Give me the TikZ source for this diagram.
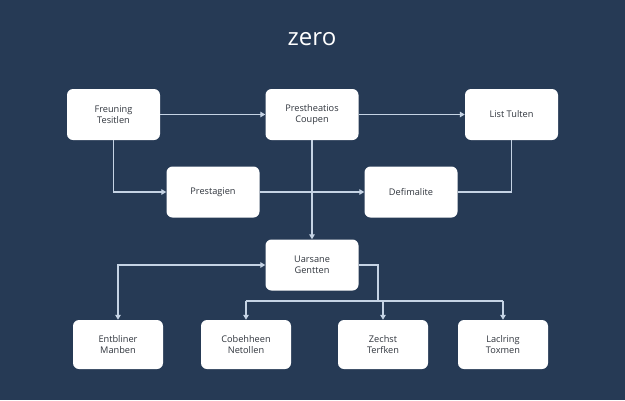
\documentclass[tikz,border=0pt]{standalone}
\usepackage{fontspec}
\setmainfont{Open Sans}
\usetikzlibrary{arrows.meta}
\definecolor{navy}{HTML}{263A55}
\definecolor{wire}{HTML}{C5D3E4}
\definecolor{ink}{HTML}{30353D}
\tikzset{
  box/.style={fill=white, rounded corners=6pt, minimum width=93pt, minimum height=51pt,
    align=center, text=ink, font=\fontsize{9.2}{11}\selectfont},
  lowbox/.style={box, minimum width=90pt, minimum height=49pt},
  bus/.style={wire, line width=1.2pt},
  link/.style={bus, -{Triangle[length=5pt,width=5.5pt]}},
  twoway/.style={bus, {Triangle[length=5pt,width=5.5pt]}-{Triangle[length=5pt,width=5.5pt]}},
  heading/.style={text=white, font=\fontsize{24}{28}\selectfont}
}

\begin{document}
\begin{tikzpicture}[x=1pt,y=-1pt]
  \fill[navy] (0,0) rectangle (625,400);
  \useasboundingbox (0,0) rectangle (625,400);

  \node[heading] (title) at (312,39) {zero};

  % top row
  \node[box] (fre) at (113.5,114.5) {Freuning\\Tesitlen};
  \node[box] (pre) at (312,114.5) {Prestheatios\\Coupen};
  \node[box] (lis) at (511.5,114.5) {List Tulten};

  % middle
  \node[box] (sta) at (213,192) {Prestagien};
  \node[box] (def) at (411,192) {Defimalite};
  \node[box] (uar) at (312,265) {Uarsane\\Gentten};

  % bottom row
  \node[lowbox] (ent) at (118,344.5) {Entbliner\\Manben};
  \node[lowbox] (cob) at (246,344.5) {Cobehheen\\Netollen};
  \node[lowbox] (zec) at (383,344.5) {Zechst\\Terfken};
  \node[lowbox] (lac) at (503,344.5) {Laclring\\Toxmen};

  \coordinate (split) at (378,301);
  \coordinate (busl) at (246,301);
  \coordinate (busr) at (503,301);

  \draw[link] (fre) -- (pre);
  \draw[link] (pre) -- (lis);
  \draw[link] (fre.south) |- (sta.west);
  \draw[link] (sta) -- (def);
  \draw[bus] (def.east) -| (lis.south);
  \draw[link] (pre.south) -- (uar.north);
  \draw[twoway] (ent.north) |- (uar.west);
  \draw[bus] (uar.east) -| (split);
  \draw[bus] (busl) -- (busr);
  \draw[link] (busl) -- (cob.north);
  \draw[link] (zec.north |- split) -- (zec.north);
  \draw[link] (busr) -- (lac.north);
\end{tikzpicture}
\end{document}
